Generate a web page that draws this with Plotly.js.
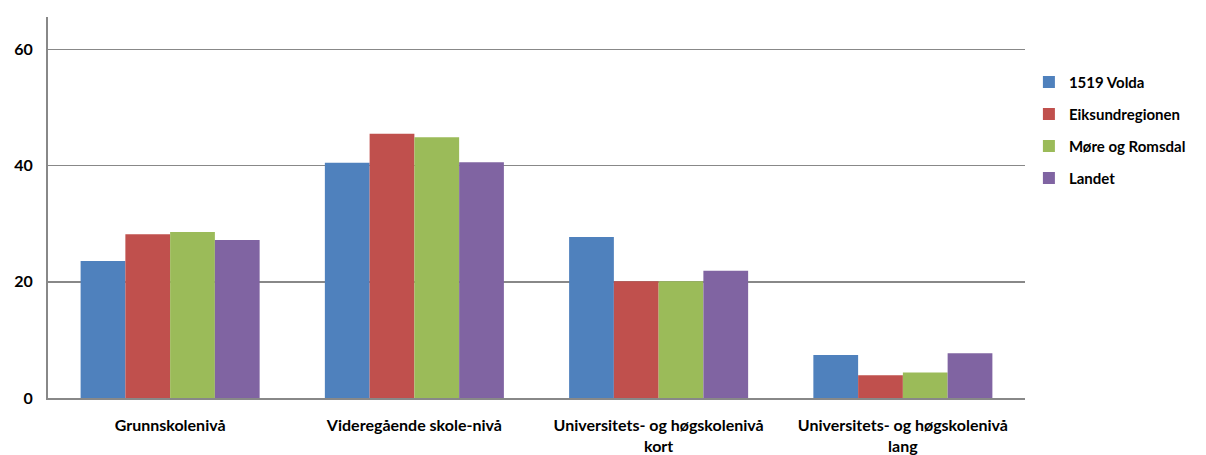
<!DOCTYPE html>
<html>
<head>
<meta charset="utf-8">
<script src="https://cdn.plot.ly/plotly-3.0.1.min.js"></script>
<style>body{margin:0;background:#fff}#chart{width:1206px;height:455px}</style>
</head>
<body>
<div id="chart"></div>
<script>
const categories = ["Grunnskolenivå", "Videregående skole-nivå", "Universitets- og høgskolenivå<br>kort", "Universitets- og høgskolenivå<br>lang"];
const seriesNames = ["1519 Volda", "Eiksundregionen", "Møre og Romsdal", "Landet"];
const volda = [23.6, 40.5, 27.7, 7.4];
const eiksund = [28.2, 45.5, 20.1, 3.9];
const more = [28.6, 44.9, 20.1, 4.4];
const landet = [27.2, 40.6, 21.9, 7.7];
const colors = ["#4F81BD", "#C0504D", "#9BBB59", "#8064A2"];
const values = [volda, eiksund, more, landet];

const fam = "Lato, 'Open Sans', sans-serif";
const traces = values.map((v, i) => ({
  type: "bar", x: categories, y: v, name: seriesNames[i],
  marker: {color: colors[i]}, legendgroup: "g" + i, hoverinfo: "skip"
}));

const layout = {
  width: 1206, height: 455,
  margin: {l: 48, r: 181, t: 17, b: 57},
  paper_bgcolor: "#fff", plot_bgcolor: "#fff",
  barmode: "group", bargap: 0.267, bargroupgap: 0,
  font: {family: fam, size: 15, color: "#000"},
  xaxis: {showline: true, linecolor: "#888", linewidth: 2, ticks: "", showgrid: false,
          ticklabelstandoff: 12,
          tickfont: {family: fam, size: 16, color: "#000", weight: "bold"}},
  yaxis: {range: [0, 65.6], dtick: 20, tick0: 0, showline: true, linecolor: "#888", linewidth: 2,
          gridcolor: "#888", gridwidth: 1.5, zeroline: false, ticks: "", ticklabelstandoff: 10,
          tickfont: {family: fam, size: 16, color: "#000", weight: "bold"}},
  showlegend: true,
  legend: {x: 1.004, xanchor: "left", y: 0.872, yanchor: "top", traceorder: "grouped",
           tracegroupgap: 9.5, font: {family: fam, size: 15, color: "#000", weight: "bold"},
           bgcolor: "rgba(0,0,0,0)", itemwidth: 30}
};

Plotly.newPlot("chart", traces, layout, {displayModeBar: false, staticPlot: true});
</script>
</body>
</html>
